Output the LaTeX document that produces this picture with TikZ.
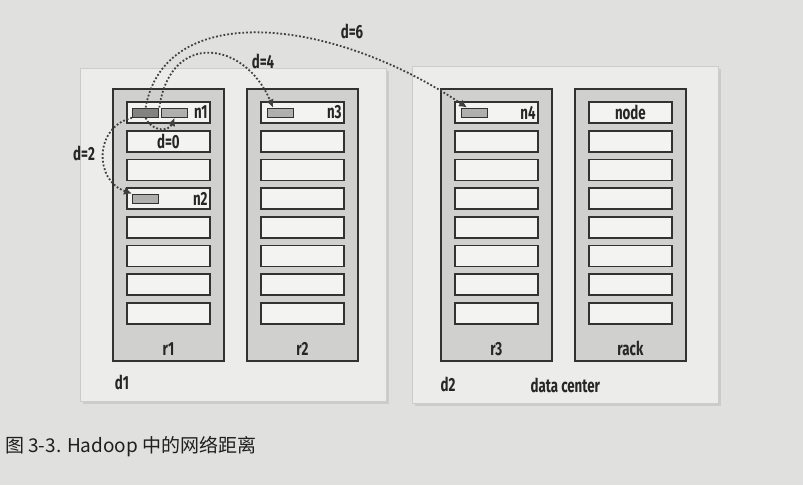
\documentclass[tikz,border=0pt]{standalone}
\usepackage{fontspec}
\setmainfont{Fira Sans}
\newfontfamily\cjkfont{Noto Sans CJK SC}
\newfontfamily\labelfont[FakeStretch=0.7]{Fira Sans}
\usepackage{tikz}
\usetikzlibrary{arrows.meta, positioning, calc, shadows}
\definecolor{paper}{RGB}{224,224,222}
\definecolor{hallgray}{RGB}{236,236,234}
\definecolor{rackgray}{RGB}{208,208,206}
\definecolor{slotwhite}{RGB}{243,243,241}
\definecolor{diskdark}{RGB}{130,130,128}
\definecolor{disklight}{RGB}{175,175,173}
\definecolor{linegray}{RGB}{50,50,50}

\begin{document}
\begin{tikzpicture}[x=1pt, y=-1pt,
  hallbox/.style={fill=hallgray, draw=gray!40, line width=0.5pt, inner sep=0pt, anchor=north west,
    drop shadow={shadow xshift=2.5pt, shadow yshift=-2.5pt, fill=gray!55}},
  rackbox/.style={draw=linegray, fill=rackgray, line width=1.8pt, inner sep=0pt, anchor=north west,
    minimum width=111pt, minimum height=272pt},
  slotbox/.style={draw=linegray, fill=slotwhite, line width=1.8pt, inner sep=0pt,
    minimum width=83pt, minimum height=21pt},
  disk/.style={draw=linegray, fill=#1, line width=1.3pt, inner sep=0pt, anchor=north west,
    minimum width=26pt, minimum height=9pt},
  lbl/.style={font=\labelfont\bfseries\fontsize{19}{21}\selectfont, text=black!85, inner sep=0pt},
  hop/.style={draw=gray!50!black, dotted, line width=1.8pt, -{Latex[length=8pt,width=8pt]}}]
  \useasboundingbox (0,0) rectangle (803,485);
  \fill[paper] (0,0) rectangle (803,485);

  % data centers
  \node[hallbox, minimum width=306pt, minimum height=333pt] (d1) at (80,68) {};
  \node[hallbox, minimum width=306pt, minimum height=337pt] (d2) at (412,66) {};
  \node[lbl] at ($(d1.south west)+(42,-19)$) {d1};
  \node[lbl] at ($(d2.south west)+(36,-19)$) {d2};
  \node[lbl] at ($(d2.south)+(0,-18)$) {data center};

  % racks with eight nodes each
  \foreach \name/\x in {r1/112, r2/246, r3/440, rack/574} {
    \node[rackbox] (\name) at (\x,88) {};
    \foreach \i in {1,...,8}
      \node[slotbox] (\name-\i) at ($(\name.north)+(0,{24.5+(\i-1)*28.7})$) {};
    \node[lbl] at ($(\name.south)+(0,-13)$) {\name};
  }

  % node labels and disks
  \node[lbl, anchor=east] at ($(r1-1.east)+(-3,0)$) {n1};
  \node[lbl, anchor=east] at ($(r1-4.east)+(-3,0)$) {n2};
  \node[lbl, anchor=east] at ($(r2-1.east)+(-3,0)$) {n3};
  \node[lbl, anchor=east] at ($(r3-1.east)+(-3,0)$) {n4};
  \node[lbl] at (rack-1) {node};
  \node[lbl] at (r1-2) {d=0};
  \node[disk=diskdark] (n1a) at ($(r1-1.west)+(6,-5)$) {};
  \node[disk=disklight] (n1b) at ($(r1-1.west)+(35,-5)$) {};
  \node[disk=disklight] (n2a) at ($(r1-4.west)+(6,-5)$) {};
  \node[disk=disklight] (n3a) at ($(r2-1.west)+(7,-5)$) {};
  \node[disk=disklight] (n4a) at ($(r3-1.west)+(7,-5)$) {};

  % distances
  \draw[hop] (n1a.south west) .. controls +(-38,9) and +(-38,-13) .. (n2a.north west);
  \draw[hop] (n1a.south) .. controls +(6,14) and +(-6,14) .. (n1b.south);
  \draw[hop] (n1a.north east) .. controls +(11,-77) and +(-28,-67) .. ($(n3a.north west)+(6,0)$);
  \draw[hop] (n1a.north) .. controls +(19,-107) and +(-138,-92) .. ($(n4a.north west)+(6,0)$);
  \node[lbl] (hop2) at (84,153) {d=2};
  \node[lbl] (hop4) at (263,61) {d=4};
  \node[lbl] (hop6) at (352,31) {d=6};

  % caption
  \node[font=\cjkfont\fontsize{19}{22}\selectfont, anchor=west, text=black!88, inner sep=0pt] (caption)
    at (5,447) {图 3-3. Hadoop 中的网络距离};
\end{tikzpicture}
\end{document}
